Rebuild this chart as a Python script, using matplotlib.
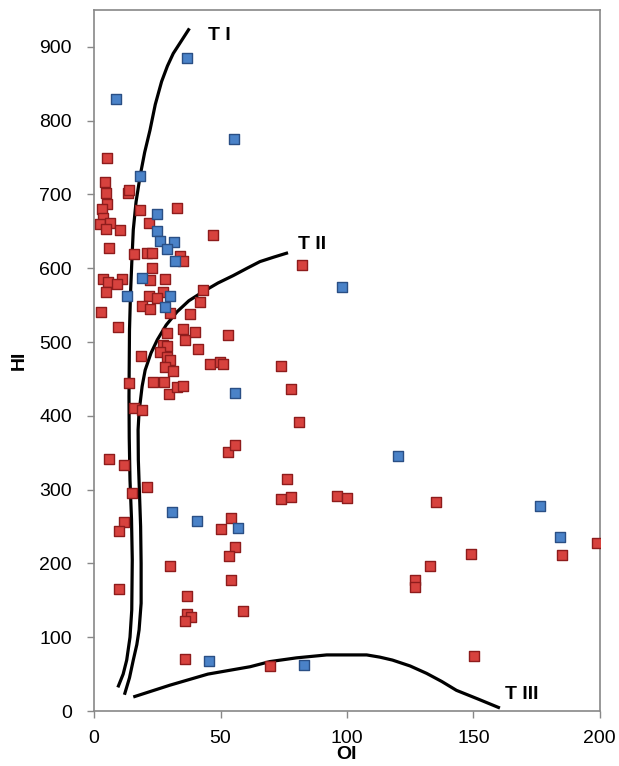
import matplotlib
matplotlib.use("Agg")
import matplotlib.pyplot as plt

# Blue samples (OI, HI)
blue_oi = [36.8, 8.7, 55.3, 18.2, 24.9, 24.9, 26.0, 31.6, 28.9, 32.0, 19.0, 13.0,
           30.0, 28.0, 55.7, 98.0, 120.0, 30.8, 40.7, 56.9, 45.5, 83.0, 176.3, 184.2]
blue_hi = [885, 829, 775, 725, 674, 650, 637, 635, 626, 610, 587, 562,
           562, 548, 431, 575, 346, 270, 258, 248, 68, 62, 278, 236]

# Red samples (OI, HI)
red_oi = [5.1, 4.3, 4.7, 13.4, 13.8, 32.9, 5.0, 3.0, 3.6, 2.4, 6.3, 10.3, 4.7, 18.2, 21.7,
          47.2, 6.0, 15.8, 20.8, 22.8, 34.0, 35.2, 22.8, 3.6, 5.5, 10.9, 9.0, 4.7, 22.1,
          28.0, 27.4, 43.0, 21.9, 24.8, 42.0, 19.0, 22.1, 30.0, 2.8, 37.8, 9.6, 28.7, 35.0,
          36.0, 40.0, 53.0, 27.4, 29.0, 26.0, 18.4, 28.7, 41.2, 30.0, 45.8, 49.8, 51.0, 28.0,
          31.3, 14.0, 23.4, 27.6, 29.8, 32.7, 35.0, 15.9, 19.0, 53.0, 55.8, 6.0, 12.0,
          82.3, 74.0, 77.9, 81.0, 76.2, 74.0, 78.0, 96.2, 100.1, 135.4, 199.0, 185.0,
          149.0, 133.0, 127.1, 127.1, 150.2, 69.6, 14.9, 21.0, 12.0, 10.0, 54.0, 50.0,
          55.7, 53.4, 54.0, 30.2, 10.0, 36.9, 59.0, 36.9, 38.3, 36.0, 36.0]
red_hi = [749, 717, 702, 702, 706, 682, 687, 680, 668, 660, 661, 652, 653, 679, 661,
          645, 627, 619, 620, 620, 616, 610, 600, 585, 581, 586, 579, 568, 584,
          585, 568, 570, 562, 560, 554, 549, 545, 539, 541, 538, 520, 512, 517,
          503, 514, 509, 496, 495, 487, 481, 480, 490, 476, 470, 473, 470, 466,
          461, 445, 446, 446, 430, 439, 440, 410, 408, 351, 360, 342, 333,
          604, 467, 436, 392, 315, 287, 290, 291, 288, 283, 227, 211,
          213, 196, 177, 168, 75, 61, 296, 303, 256, 244, 262, 247,
          222, 210, 177, 197, 165, 156, 136, 131, 127, 122, 70]

# Boundary curves (OI, HI)
t1_oi = [9.4, 11.5, 12.9, 14.2, 14.9, 15.1, 14.8, 14.2, 13.9, 13.8, 14.0, 14.4, 14.9, 15.5, 16.6, 18.2,
         20.0, 22.1, 24.2, 26.7, 29.0, 31.3, 34.5, 37.7]
t1_hi = [32, 50, 69, 100, 137, 205, 260, 313, 370, 426, 516, 565, 607, 652, 690, 725,
         757, 787, 822, 853, 874, 891, 908, 925]
t2_oi = [12.0, 14.0, 15.5, 16.9, 17.8, 18.6, 18.6, 18.4, 17.9, 17.5, 17.4, 17.7, 18.2, 19.0, 20.2, 22.5,
         25.0, 28.5, 32.8, 37.5, 43.0, 49.0, 55.0, 60.5, 65.6, 71.0, 76.7]
t2_hi = [22, 45, 69, 90, 110, 146, 200, 250, 300, 340, 381, 400, 417, 440, 462, 485,
         503, 523, 541, 556, 568, 580, 590, 600, 609, 615, 621]
t3_oi = [15.5, 30.0, 45.0, 61.7, 69.6, 80.0, 92.0, 100.0, 107.8, 113.0, 118.0, 125.0, 131.5, 137.5,
         143.3, 152.0, 160.5]
t3_hi = [19, 35, 50, 60, 67, 72, 76, 76, 76, 73, 69, 61, 51, 40, 28, 16, 4]

x_ticks = [0, 50, 100, 150, 200]
y_ticks = [0, 100, 200, 300, 400, 500, 600, 700, 800, 900]

plt.rcParams['font.family'] = ['Liberation Sans', 'DejaVu Sans']

fig = plt.figure(figsize=(6.19, 7.66), dpi=100)
ax = fig.add_axes([0.152, 0.0718, 0.817, 0.9152])

lw = 2.3
for xs, ys in ((t1_oi, t1_hi), (t2_oi, t2_hi), (t3_oi, t3_hi)):
    ax.plot(xs, ys, color='black', lw=lw, solid_capstyle='butt',
            solid_joinstyle='round', zorder=2)

ax.scatter(red_oi, red_hi, marker='s', s=55, facecolor='#d7423e', edgecolor='#8e1c1c',
           linewidths=1.0, zorder=3)
ax.scatter(blue_oi, blue_hi, marker='s', s=55, facecolor='#4a82c8', edgecolor='#2a4f85',
           linewidths=1.0, zorder=4)

ax.text(45, 915, 'T I', fontsize=14, fontweight='bold', ha='left', va='center')
ax.text(80.5, 632, 'T II', fontsize=14, fontweight='bold', ha='left', va='center')
ax.text(162.5, 23, 'T III', fontsize=14, fontweight='bold', ha='left', va='center')

ax.set_xlim(0, 200)
ax.set_ylim(0, 950)
ax.set_xticks(x_ticks)
ax.set_yticks(y_ticks)
ax.tick_params(axis='both', labelsize=14, color='#888888', length=5, width=1,
               direction='out')
ax.tick_params(axis='x', pad=9)
ax.tick_params(axis='y', pad=11)
for sp in ax.spines.values():
    sp.set_color('#888888')
    sp.set_linewidth(1.2)

ax.set_xlabel('OI', fontsize=14, fontweight='bold', labelpad=-1)
ax.set_ylabel('HI', fontsize=14, fontweight='bold', labelpad=8)

fig.savefig('out.png', dpi=100)
